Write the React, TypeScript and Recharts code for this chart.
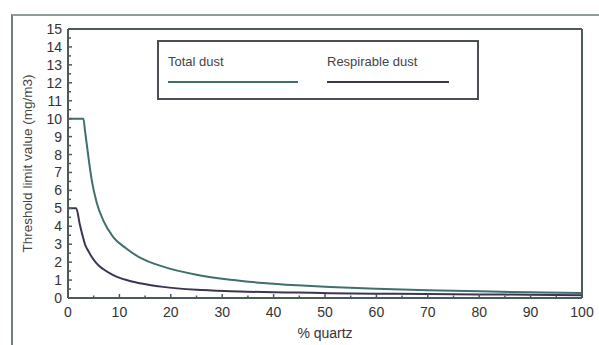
import { LineChart, Line, XAxis, YAxis, ReferenceLine, Label } from 'recharts';

// % quartz positions
const quartz = [0, 1.6, 2.3, 3, 3.3, 4, 4.6, 5.6, 6.9, 8.8, 11.4, 14, 18.5, 25, 31.6, 38, 44.6, 51, 60, 70, 80, 90, 100];
const totalDust = [10, 10, 10, 10, 9.35, 7.8, 6.6, 5.3, 4.3, 3.4, 2.75, 2.25, 1.75, 1.3, 1.02, 0.84, 0.71, 0.61, 0.51, 0.43, 0.37, 0.32, 0.28];
const respirableDust = [5, 5, 4.1, 3.3, 3.0, 2.6, 2.3, 1.92, 1.6, 1.28, 1.0, 0.82, 0.62, 0.46, 0.38, 0.33, 0.3, 0.27, 0.24, 0.22, 0.2, 0.18, 0.16];

const xTicks = [0, 5, 10, 15, 20, 25, 30, 35, 40, 45, 50, 55, 60, 65, 70, 75, 80, 85, 90, 95, 100];
const yTicks = [0, 0.5, 1, 1.5, 2, 2.5, 3, 3.5, 4, 4.5, 5, 5.5, 6, 6.5, 7, 7.5, 8, 8.5, 9, 9.5, 10, 10.5, 11, 11.5, 12, 12.5, 13, 13.5, 14, 14.5, 15];

const data = quartz.map((q, i) => ({ q, total: totalDust[i], resp: respirableDust[i] }));

const FONT = '"Liberation Sans", Arial, sans-serif';
const AXIS = '#4c5a5c';
const TOTAL = '#3f6f6e';
const RESP = '#3c3454';
const Y_GAP = 6;
const X_GAP = 9;

const YTick = (props: any) => {
  const { x, y, payload } = props;
  const v = payload.value;
  const major = Number.isInteger(v);
  return (
    <g>
      <line x1={x + Y_GAP} x2={x + Y_GAP + (major ? 4 : 3)} y1={y} y2={y} stroke={AXIS} strokeWidth={1.5} />
      {major && (
        <text x={x} y={y} dy={5} textAnchor="end" fontFamily={FONT} fontSize={14} fill="#333">
          {v}
        </text>
      )}
    </g>
  );
};

const XTick = (props: any) => {
  const { x, y, payload } = props;
  const v = payload.value;
  const major = v % 10 === 0;
  return (
    <g>
      <line x1={x} x2={x} y1={y - X_GAP} y2={y - X_GAP - (major ? 4 : 2.5)} stroke={AXIS} strokeWidth={1.5} />
      {major && (
        <text x={x} y={y} dy={10} textAnchor="middle" fontFamily={FONT} fontSize={14} fill="#333">
          {v}
        </text>
      )}
    </g>
  );
};

export default function App() {
  return (
    <div style={{ position: 'absolute', left: 0, top: 0, width: 599, height: 345, background: '#fff', overflow: 'hidden' }}>
      <div
        style={{
          position: 'absolute', left: 11, top: 14, width: 600, height: 340,
          borderTop: '2px solid #8e9c9c', borderLeft: '2px solid #6f8080',
        }}
      />
      <LineChart width={599} height={345} data={data} margin={{ top: 29, right: 17, left: 0, bottom: 0 }}>
        <XAxis
          dataKey="q" type="number" domain={[0, 100]} ticks={xTicks} interval={0}
          height={47} tickSize={0} tickMargin={X_GAP} tick={<XTick />}
          axisLine={{ stroke: AXIS, strokeWidth: 2 }} tickLine={false}
        >
          <Label value="% quartz" position="insideBottom" offset={7} style={{ fontFamily: FONT, fontSize: 14, fill: '#333' }} />
        </XAxis>
        <YAxis
          type="number" domain={[0, 15]} ticks={yTicks} interval={0}
          width={68} tickSize={0} tickMargin={Y_GAP} tick={<YTick />}
          axisLine={{ stroke: AXIS, strokeWidth: 2 }} tickLine={false}
        >
          <Label
            value="Threshold limit value (mg/m3)" angle={-90} position="insideLeft" offset={27}
            style={{ fontFamily: FONT, fontSize: 13.5, fill: '#444', textAnchor: 'middle' }}
          />
        </YAxis>
        <ReferenceLine y={15} stroke={AXIS} strokeWidth={2} />
        <ReferenceLine x={100} stroke={AXIS} strokeWidth={2} />
        <Line type="monotone" dataKey="total" stroke={TOTAL} strokeWidth={2} dot={false} isAnimationActive={false} />
        <Line type="monotone" dataKey="resp" stroke={RESP} strokeWidth={2} dot={false} isAnimationActive={false} />
      </LineChart>
      <div
        style={{
          position: 'absolute', left: 157, top: 40, width: 318, height: 56,
          border: '2px solid #4a4f55', fontFamily: FONT, fontSize: 13, color: '#444',
        }}
      >
        <div style={{ position: 'absolute', left: 9, top: 12 }}>Total dust</div>
        <div style={{ position: 'absolute', left: 9, top: 39, width: 130, borderTop: `2px solid ${TOTAL}` }} />
        <div style={{ position: 'absolute', left: 168, top: 12 }}>Respirable dust</div>
        <div style={{ position: 'absolute', left: 168, top: 39, width: 122, borderTop: `2px solid ${RESP}` }} />
      </div>
    </div>
  );
}
